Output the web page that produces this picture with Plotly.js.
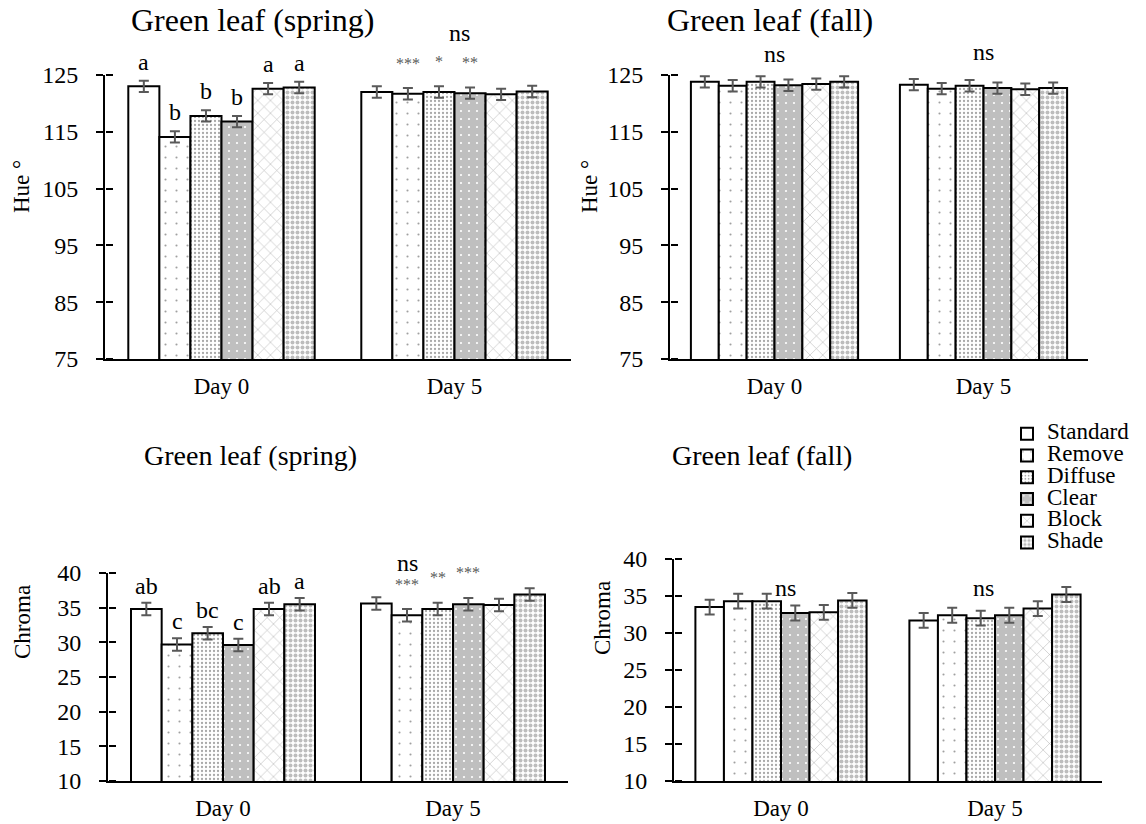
<!DOCTYPE html>
<html>
<head>
<meta charset="utf-8">
<script src="https://cdn.plot.ly/plotly-3.0.1.min.js"></script>
<style>html,body{margin:0;padding:0;background:#fff;}</style>
</head>
<body>
<div id="chart" style="width:1146px;height:824px;"></div>
<script>
// ---------- DATA ----------
const days = ['Day 0', 'Day 5'];
const treatments = ['Standard', 'Remove', 'Diffuse', 'Clear', 'Block', 'Shade'];

// Hue (spring)
const hueSpringDay0 = [123.0, 114.1, 117.8, 116.8, 122.6, 122.8];
const hueSpringDay5 = [122.0, 121.7, 122.0, 121.8, 121.6, 122.1];
const hueSpringErrDay0 = [1.0, 1.0, 1.0, 1.0, 1.0, 1.0];
const hueSpringErrDay5 = [1.0, 1.0, 1.0, 1.0, 1.0, 1.0];
// Hue (fall)
const hueFallDay0 = [123.8, 123.1, 123.8, 123.2, 123.4, 123.8];
const hueFallDay5 = [123.3, 122.6, 123.1, 122.7, 122.5, 122.7];
const hueFallErrDay0 = [1.0, 1.0, 1.0, 1.0, 1.0, 1.0];
const hueFallErrDay5 = [1.0, 1.0, 1.0, 1.0, 1.0, 1.0];
// Chroma (spring)
const chromaSpringDay0 = [34.8, 29.7, 31.3, 29.6, 34.8, 35.5];
const chromaSpringDay5 = [35.6, 33.9, 34.8, 35.5, 35.4, 36.9];
const chromaSpringErrDay0 = [0.9, 0.9, 0.9, 0.9, 0.9, 0.9];
const chromaSpringErrDay5 = [0.9, 0.9, 0.9, 0.9, 0.9, 0.9];
// Chroma (fall)
const chromaFallDay0 = [33.5, 34.3, 34.3, 32.7, 32.8, 34.4];
const chromaFallDay5 = [31.7, 32.4, 32.0, 32.4, 33.3, 35.2];
const chromaFallErrDay0 = [1.0, 1.0, 1.0, 1.0, 1.0, 1.0];
const chromaFallErrDay5 = [1.0, 1.0, 1.0, 1.0, 1.0, 1.0];

// Significance labels
const hueSpringLetters0 = ['a', 'b', 'b', 'b', 'a', 'a'];
const hueSpringStars5 = ['', '***', '*', '**', '', ''];
const chromaSpringLetters0 = ['ab', 'c', 'bc', 'c', 'ab', 'a'];
const chromaSpringStars5 = ['', '***', '**', '***', '', ''];

const hueTicks = [75, 85, 95, 105, 115, 125];
const chromaTicks = [10, 15, 20, 25, 30, 35, 40];

// ---------- STYLE / LAYOUT ----------
const W = 1146, H = 824;
const FONT = 'Liberation Serif';
const patterns = [
  {shape: '', bgcolor: '#ffffff', fgcolor: '#ffffff'},
  {shape: '.', bgcolor: '#ffffff', fgcolor: '#a0a0a0', size: 11, solidity: 0.03},
  {shape: '.', bgcolor: '#ffffff', fgcolor: '#a8a8a8', size: 4, solidity: 0.25},
  {shape: '.', bgcolor: '#bfbfbf', fgcolor: '#ffffff', size: 8, solidity: 0.06},
  {shape: 'x', bgcolor: '#ffffff', fgcolor: '#b4b4b4', size: 9, solidity: 0.12},
  {shape: '.', bgcolor: '#ffffff', fgcolor: '#bdbdbd', size: 5, solidity: 0.5}
];

const panels = [
  {xa: 'x',  ya: 'y',  d0: hueSpringDay0, d5: hueSpringDay5, e0: hueSpringErrDay0, e5: hueSpringErrDay5,
   px: [105, 571], py: [75, 359], range: [75, 125], ticks: hueTicks},
  {xa: 'x2', ya: 'y2', d0: hueFallDay0, d5: hueFallDay5, e0: hueFallErrDay0, e5: hueFallErrDay5,
   px: [670, 1088], py: [75, 359], range: [75, 125], ticks: hueTicks},
  {xa: 'x3', ya: 'y3', d0: chromaSpringDay0, d5: chromaSpringDay5, e0: chromaSpringErrDay0, e5: chromaSpringErrDay5,
   px: [108, 568], py: [573, 781], range: [10, 40], ticks: chromaTicks},
  {xa: 'x4', ya: 'y4', d0: chromaFallDay0, d5: chromaFallDay5, e0: chromaFallErrDay0, e5: chromaFallErrDay5,
   px: [674, 1102], py: [559, 781], range: [10, 40], ticks: chromaTicks}
];

const BARGAP = 0.2;
function barX(i, k) { return i - (1 - BARGAP) / 2 + (k + 0.5) * (1 - BARGAP) / treatments.length; }

const traces = [];
panels.forEach((p, pi) => {
  treatments.forEach((t, k) => {
    traces.push({
      type: 'bar',
      name: '<span style="font-size:23px">' + t + '</span>',
      x: days,
      y: [p.d0[k], p.d5[k]],
      xaxis: p.xa, yaxis: p.ya,
      marker: {color: '#ffffff', line: {color: '#000000', width: 2}, pattern: patterns[k]},
      error_y: {type: 'data', array: [p.e0[k], p.e5[k]], visible: true, color: '#595959', thickness: 2, width: 5},
      showlegend: pi === 0,
      hoverinfo: 'skip'
    });
  });
  // invisible trace registering the crossing-tick overlay axis
  traces.push({type: 'scatter', mode: 'markers', x: [days[0]], y: [null], xaxis: p.xa, yaxis: 'y' + (pi + 5),
               marker: {opacity: 0}, showlegend: false, hoverinfo: 'skip'});
});

const layout = {
  width: W, height: H,
  margin: {l: 0, r: 0, t: 0, b: 0},
  paper_bgcolor: '#ffffff', plot_bgcolor: 'rgba(0,0,0,0)',
  font: {family: FONT, size: 23, color: '#000000'},
  barmode: 'group', bargap: BARGAP, bargroupgap: 0,
  showlegend: true,
  hovermode: false,
  legend: {
    x: 1007 / W, y: 1 - 418 / H, xanchor: 'left', yanchor: 'top',
    font: {family: FONT, size: 14.4, color: '#000'},
    bgcolor: 'rgba(0,0,0,0)', tracegroupgap: 0, traceorder: 'normal'
  },
  annotations: []
};

panels.forEach((p, pi) => {
  const n = pi === 0 ? '' : String(pi + 1);
  layout['xaxis' + n] = {
    domain: [p.px[0] / W, p.px[1] / W], anchor: p.ya,
    type: 'category', showline: true, linecolor: '#000', linewidth: 1.5,
    ticks: '', showgrid: false, zeroline: false,
    tickfont: {family: FONT, size: 23, color: '#000'}, ticklabelstandoff: 6, fixedrange: true
  };
  layout['yaxis' + n] = {
    domain: [1 - p.py[1] / H, 1 - p.py[0] / H], anchor: p.xa,
    range: p.range, tickmode: 'array', tickvals: p.ticks,
    showline: true, linecolor: '#000', linewidth: 2,
    ticks: 'outside', ticklen: 7, tickwidth: 2, tickcolor: '#000',
    showgrid: false, zeroline: false,
    tickfont: {family: FONT, size: 24, color: '#000'}, ticklabelstandoff: 13, fixedrange: true
  };
  // overlay axis at the same x position, ticks pointing right -> crossing ticks
  layout['yaxis' + (pi + 5)] = {
    overlaying: p.ya, anchor: 'free', position: p.px[0] / W, side: 'right',
    range: p.range, tickmode: 'array', tickvals: p.ticks,
    showline: false, ticks: 'outside', ticklen: 7, tickwidth: 2, tickcolor: '#000',
    showticklabels: false, showgrid: false, zeroline: false, fixedrange: true
  };
});

const A = layout.annotations;
function ann(o) { A.push(Object.assign({showarrow: false, font: {family: FONT, size: 24, color: '#000'}}, o)); }

// Panel titles
ann({text: 'Green leaf (spring)', xref: 'paper', yref: 'paper', x: 252 / W, y: 1 - 20 / H, xanchor: 'center', yanchor: 'middle', font: {family: FONT, size: 32, color: '#000'}});
ann({text: 'Green leaf (fall)', xref: 'paper', yref: 'paper', x: 770 / W, y: 1 - 20 / H, xanchor: 'center', yanchor: 'middle', font: {family: FONT, size: 32, color: '#000'}});
ann({text: 'Green leaf (spring)', xref: 'paper', yref: 'paper', x: 250 / W, y: 1 - 455 / H, xanchor: 'center', yanchor: 'middle', font: {family: FONT, size: 28, color: '#000'}});
ann({text: 'Green leaf (fall)', xref: 'paper', yref: 'paper', x: 762 / W, y: 1 - 455 / H, xanchor: 'center', yanchor: 'middle', font: {family: FONT, size: 28, color: '#000'}});

// Y axis titles
ann({text: 'Hue °', xref: 'paper', yref: 'paper', x: 22 / W, y: 1 - 187 / H, textangle: -90, xanchor: 'center', yanchor: 'middle', font: {family: FONT, size: 23, color: '#000'}});
ann({text: 'Hue °', xref: 'paper', yref: 'paper', x: 590 / W, y: 1 - 187 / H, textangle: -90, xanchor: 'center', yanchor: 'middle', font: {family: FONT, size: 23, color: '#000'}});
ann({text: 'Chroma', xref: 'paper', yref: 'paper', x: 22 / W, y: 1 - 622 / H, textangle: -90, xanchor: 'center', yanchor: 'middle', font: {family: FONT, size: 23, color: '#000'}});
ann({text: 'Chroma', xref: 'paper', yref: 'paper', x: 602 / W, y: 1 - 618 / H, textangle: -90, xanchor: 'center', yanchor: 'middle', font: {family: FONT, size: 23, color: '#000'}});

// Top-left letters (Day 0) and stars / ns (Day 5)
hueSpringLetters0.forEach((s, k) => {
  if (s) ann({text: s, xref: 'x', yref: 'y', x: barX(0, k), y: hueSpringDay0[k] + hueSpringErrDay0[k], yanchor: 'middle', yshift: 19});
});
hueSpringStars5.forEach((s, k) => {
  if (s) ann({text: s, xref: 'x', yref: 'y', x: barX(1, k), y: hueSpringDay5[k] + hueSpringErrDay5[k], yanchor: 'middle', yshift: 25, font: {family: FONT, size: 16, color: '#595959'}});
});
ann({text: 'ns', xref: 'x', yref: 'y', x: 1.02, y: Math.max(...hueSpringDay5.map((v, k) => v + hueSpringErrDay5[k])), yanchor: 'middle', yshift: 53});

// Top-right ns
ann({text: 'ns', xref: 'x2', yref: 'y2', x: 0, y: Math.max(...hueFallDay0.map((v, k) => v + hueFallErrDay0[k])), yanchor: 'middle', yshift: 22});
ann({text: 'ns', xref: 'x2', yref: 'y2', x: 1, y: Math.max(...hueFallDay5.map((v, k) => v + hueFallErrDay5[k])), yanchor: 'middle', yshift: 27});

// Bottom-left letters and stars
chromaSpringLetters0.forEach((s, k) => {
  if (s) ann({text: s, xref: 'x3', yref: 'y3', x: barX(0, k), y: chromaSpringDay0[k] + chromaSpringErrDay0[k], yanchor: 'middle', yshift: 17});
});
chromaSpringStars5.forEach((s, k) => {
  if (s) ann({text: s, xref: 'x3', yref: 'y3', x: barX(1, k), y: chromaSpringDay5[k] + chromaSpringErrDay5[k], yanchor: 'middle', yshift: 25, font: {family: FONT, size: 16, color: '#595959'}});
});
ann({text: 'ns', xref: 'x3', yref: 'y3', x: barX(1, 1), y: chromaSpringDay5[1] + chromaSpringErrDay5[1], yanchor: 'middle', yshift: 46});

// Bottom-right ns
ann({text: 'ns', xref: 'x4', yref: 'y4', x: 0.02, y: chromaFallDay0[2] + chromaFallErrDay0[2], yanchor: 'middle', yshift: 6});
ann({text: 'ns', xref: 'x4', yref: 'y4', x: 0.944, y: chromaFallDay0[2] + chromaFallErrDay0[2], yanchor: 'middle', yshift: 6});

Plotly.newPlot('chart', traces, layout, {staticPlot: true, displayModeBar: false});
</script>
</body>
</html>
